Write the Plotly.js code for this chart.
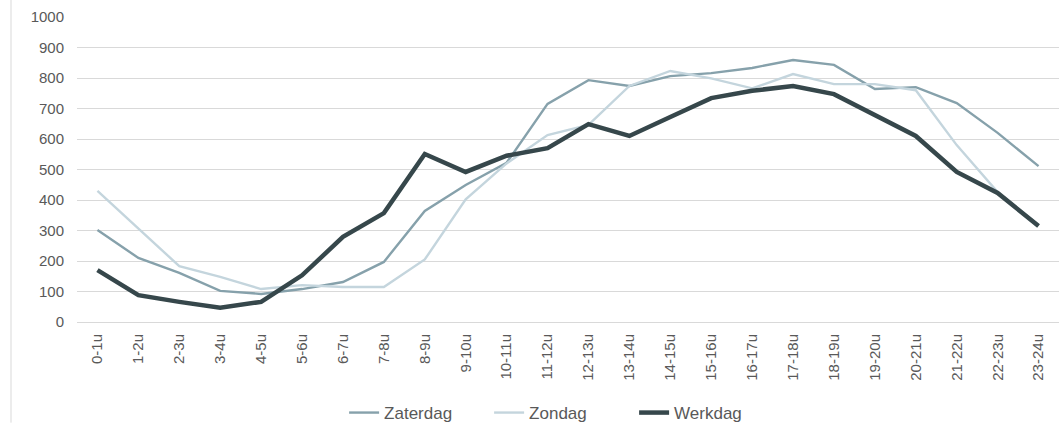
<!DOCTYPE html>
<html>
<head>
<meta charset="utf-8">
<script src="https://cdn.plot.ly/plotly-3.0.1.min.js"></script>
<style>html,body{margin:0;padding:0;background:#fff;}#chart{width:1061px;height:423px;}</style>
</head>
<body>
<div id="chart"></div>
<script>
const categories = ["0-1u","1-2u","2-3u","3-4u","4-5u","5-6u","6-7u","7-8u","8-9u","9-10u","10-11u","11-12u","12-13u","13-14u","14-15u","15-16u","16-17u","17-18u","18-19u","19-20u","20-21u","21-22u","22-23u","23-24u"];
const zaterdag = [302,210,161,102,92,108,131,197,364,449,522,715,793,774,806,816,833,859,843,764,770,718,620,511];
const zondag = [430,305,183,148,108,121,115,115,205,402,520,613,646,774,823,799,766,813,780,780,760,580,426,318];
const werkdag = [170,88,66,47,66,153,279,357,551,492,545,570,649,610,672,734,758,774,747,679,610,492,423,315];
const yTicks = [0,100,200,300,400,500,600,700,800,900,1000];

const traces = [
  {x: categories, y: zaterdag, name: "Zaterdag", type: "scatter", mode: "lines", line: {color: "#86a1ab", width: 2.4}},
  {x: categories, y: zondag, name: "Zondag", type: "scatter", mode: "lines", line: {color: "#c4d5dd", width: 2.4}},
  {x: categories, y: werkdag, name: "Werkdag", type: "scatter", mode: "lines", line: {color: "#36474b", width: 4.5}}
];

const layout = {
  width: 1061, height: 423,
  margin: {l: 77, r: 2, t: 17, b: 101},
  paper_bgcolor: "#ffffff", plot_bgcolor: "#ffffff",
  font: {family: "Liberation Sans, Arial, sans-serif", color: "#595959", size: 15},
  showlegend: true,
  legend: {orientation: "h", x: 0.272, xanchor: "left", xref: "paper", y: 0.0236, yref: "container", yanchor: "middle", font: {size: 17, color: "#595959"}, itemwidth: 30, entrywidth: 100, entrywidthmode: "pixels", tracegroupgap: 0},
  xaxis: {type: "category", range: [-0.5, 23.5], tickangle: -90, showgrid: false, showline: false, ticks: "", tickfont: {size: 15, color: "#595959"}, ticklabelstandoff: 8, fixedrange: true},
  yaxis: {range: [0, 1000], tickvals: yTicks, showgrid: true, gridcolor: "#d9d9d9", gridwidth: 1, zeroline: true, zerolinecolor: "#d9d9d9", zerolinewidth: 1, showline: false, ticks: "", tickfont: {size: 15, color: "#595959"}, ticklabelstandoff: 12, fixedrange: true},
  shapes: [
    {type: "line", xref: "paper", yref: "paper", x0: -0.0672, x1: -0.0672, y0: -0.33, y1: 1.06, line: {color: "#d9d9d9", width: 1}}
  ]
};

Plotly.newPlot("chart", traces, layout, {displayModeBar: false, staticPlot: true});
</script>
</body>
</html>
